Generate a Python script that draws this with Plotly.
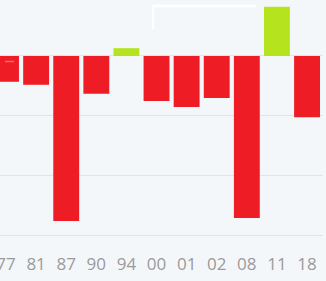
import plotly.graph_objects as go

years = ["77", "81", "87", "90", "94", "00", "01", "02", "08", "11", "18"]
values = [-4.3, -4.8, -27.5, -6.3, 1.3, -7.5, -8.5, -7.0, -27.0, 8.2, -10.2]

RED = "#ee1c25"
GREEN = "#b5e31e"
colors = [GREEN if v > 0 else RED for v in values]

fig = go.Figure(go.Bar(x=years, y=values, marker=dict(color=colors, line=dict(width=0)),
                       width=0.86))

fig.update_layout(
    width=326, height=281,
    margin=dict(l=0, r=3, t=0, b=35),
    paper_bgcolor="#f4f7fa", plot_bgcolor="#f4f7fa",
    showlegend=False,
    xaxis=dict(type="category", range=[-0.2, 10.53], showgrid=False, zeroline=False,
               showline=False, ticks="", ticklabelstandoff=6, automargin=False,
               tickfont=dict(family="Open Sans", size=17, color="#9a9a9a")),
    yaxis=dict(range=[-31.67, 9.33], dtick=10, tick0=0, showticklabels=False,
               automargin=False,
               gridcolor="#e1e5ea", gridwidth=1, zeroline=True, zerolinecolor="#e1e5ea",
               zerolinewidth=1),
    shapes=[
        dict(type="line", xref="paper", yref="paper", x0=153/323, x1=256/323,
             y0=1-6/246, y1=1-6/246, line=dict(color="white", width=2.5)),
        dict(type="line", xref="paper", yref="paper", x0=153/323, x1=153/323,
             y0=1-5/246, y1=1-29/246, line=dict(color="white", width=2)),
        dict(type="line", xref="paper", yref="paper", x0=5/323, x1=14/323,
             y0=1-61.5/246, y1=1-61.5/246, line=dict(color="#f46a6a", width=1.5)),
    ],
)

fig.write_html("out.html")
